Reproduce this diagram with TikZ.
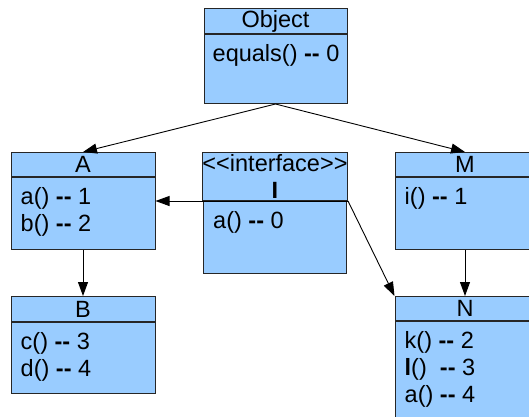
\documentclass[tikz,border=0pt]{standalone}
\usepackage{fontspec}
\setmainfont{Liberation Sans}
\usepackage{tikz}
\usetikzlibrary{arrows.meta, positioning, calc}
\definecolor{umlblue}{RGB}{153, 204, 255}
\newcommand{\umldash}{\textbf{-{}-}}

\begin{document}
\begin{tikzpicture}[
  x=1pt, y=-1pt,
  every node/.style={font=\fontsize{23.5}{27}\selectfont},
  head/.style={
    draw=black!85, fill=umlblue, line width=1pt,
    minimum width=143pt, minimum height=25pt,
    inner sep=0pt, anchor=north, align=center
  },
  body/.style={
    draw=black!85, fill=umlblue, line width=1pt,
    minimum width=143pt, inner sep=0pt, anchor=north
  },
  members/.style={anchor=north west, inner sep=0pt, align=left},
  arrow/.style={-{Triangle[length=14pt, width=10pt]}, line width=0.9pt}
]

  \useasboundingbox (0,0) rectangle (529,416);
  \clip (0,0) rectangle (529,416);

  % Klasse Object (oben)
  \node[head] (objH) at (275.5,8) {Object};
  \node[body, minimum height=69pt] (objB) at (objH.south) {};
  \node[members] (objM) at ([shift={(9,10)}]objB.north west) {equals() \umldash{} 0};

  % mittlere Reihe: A, Interface I, M
  \node[head, minimum width=144pt, minimum height=24pt] (aH) at (83,152) {A};
  \node[body, minimum width=144pt, minimum height=72pt] (aB) at (aH.south) {};
  \node[members] (aM) at ([shift={(10,10)}]aB.north west) {a() \umldash{} 1\\b() \umldash{} 2};

  \node[head, minimum height=48pt] (iH) at (275,152) {<{}<interface>{}>\\\textbf{I}};
  \node[body, minimum height=72pt] (iB) at (iH.south) {};
  \node[members] (iM) at ([shift={(10,10)}]iB.north west) {a() \umldash{} 0};

  \node[head, minimum width=140pt, minimum height=24pt] (mH) at (465,152) {M};
  \node[body, minimum width=140pt, minimum height=72pt] (mB) at (mH.south) {};
  \node[members] (mM) at ([shift={(10,10)}]mB.north west) {i() \umldash{} 1};

  % untere Reihe: B, N
  \node[head, minimum width=144pt] (bH) at (83,296) {B};
  \node[body, minimum width=144pt, minimum height=71pt] (bB) at (bH.south) {};
  \node[members] (bM) at ([shift={(10,10)}]bB.north west) {c() \umldash{} 3\\d() \umldash{} 4};

  \node[head, minimum width=140pt, minimum height=24pt] (nH) at (465,296) {N};
  \node[body, minimum width=140pt, minimum height=110pt] (nB) at (nH.south) {};
  \node[members] (nM) at ([shift={(10,10)}]nB.north west) {k() \umldash{} 2\\\textbf{l}()\ \ \umldash{} 3\\a() \umldash{} 4};

  % Vererbung
  \draw[arrow] (objB.south) -- (aH.north);
  \draw[arrow] (objB.south) -- (mH.north);
  \draw[arrow] (aB.south) -- (bH.north);
  \draw[arrow] (mB.south) -- (nH.north);

  % Interface-Pfeile
  \draw[arrow] (iH.south east) -- (iH.south east -| aB.east);
  \draw[arrow] (iH.south east) -- (nH.north west);

\end{tikzpicture}
\end{document}
